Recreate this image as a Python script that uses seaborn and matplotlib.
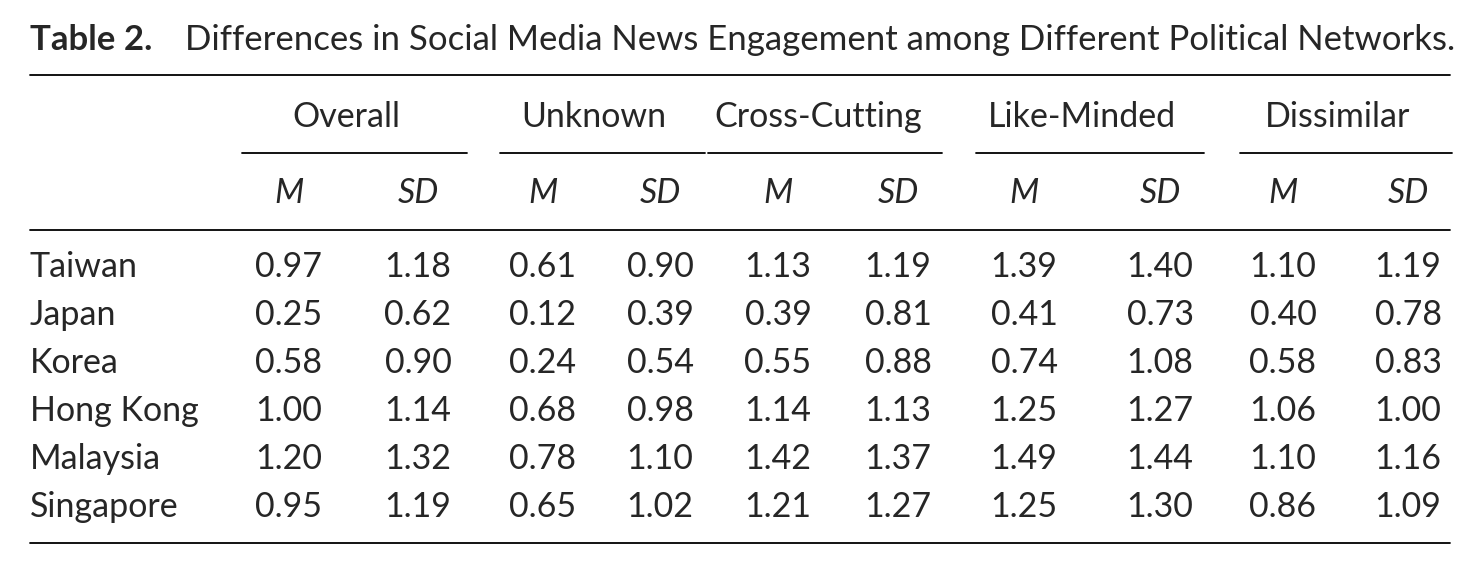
import matplotlib
matplotlib.use('Agg')
import matplotlib.pyplot as plt
import seaborn as sns

# ── Table data ───────────────────────────────────────────────
countries = ['Taiwan', 'Japan', 'Korea', 'Hong Kong', 'Malaysia', 'Singapore']
groups = ['Overall', 'Unknown', 'Cross-Cutting', 'Like-Minded', 'Dissimilar']
overall_m = ['0.97', '0.25', '0.58', '1.00', '1.20', '0.95']
overall_sd = ['1.18', '0.62', '0.90', '1.14', '1.32', '1.19']
unknown_m = ['0.61', '0.12', '0.24', '0.68', '0.78', '0.65']
unknown_sd = ['0.90', '0.39', '0.54', '0.98', '1.10', '1.02']
cross_m = ['1.13', '0.39', '0.55', '1.14', '1.42', '1.21']
cross_sd = ['1.19', '0.81', '0.88', '1.13', '1.37', '1.27']
like_m = ['1.39', '0.41', '0.74', '1.25', '1.49', '1.25']
like_sd = ['1.40', '0.73', '1.08', '1.27', '1.44', '1.30']
diss_m = ['1.10', '0.40', '0.58', '1.06', '1.10', '0.86']
diss_sd = ['1.19', '0.78', '0.83', '1.00', '1.16', '1.09']

columns = [overall_m, overall_sd, unknown_m, unknown_sd, cross_m, cross_sd,
           like_m, like_sd, diss_m, diss_sd]

# ── Layout (pixels) ──────────────────────────────────────────
W, H = 1479, 570
col_x = [289, 418, 543, 660, 778, 898, 1024, 1160, 1283, 1408]
group_x = [(242, 467), (500, 705), (708, 942), (976, 1204), (1240, 1452)]
group_cx = [346, 594, 818, 1082, 1338]
row_y = [267, 315, 363, 411, 459, 507]

sns.set_theme(style='white')
plt.rcParams['font.family'] = ['Lato', 'DejaVu Sans']

fig = plt.figure(figsize=(W / 100, H / 100), dpi=100)
ax = fig.add_axes([0, 0, 1, 1])
ax.set_xlim(0, W)
ax.set_ylim(H, 0)
ax.axis('off')

fs = 24.5
ax.text(30, 40, 'Table 2.', fontsize=25, fontweight='bold', va='center', ha='left')
ax.text(185, 40, 'Differences in Social Media News Engagement among Different Political Networks.',
        fontsize=25, va='center', ha='left')

for y in (75, 230, 543):
    ax.plot([30, 1450], [y, y], color='black', lw=1.3)

for name, cx, (x0, x1) in zip(groups, group_cx, group_x):
    ax.text(cx, 117, name, fontsize=fs, ha='center', va='center')
    ax.plot([x0, x1], [153, 153], color='black', lw=1.3)

for i, x in enumerate(col_x):
    ax.text(x, 193, 'M' if i % 2 == 0 else 'SD', fontsize=fs, style='italic',
            ha='center', va='center')

for j, (c, y) in enumerate(zip(countries, row_y)):
    ax.text(30, y, c, fontsize=fs, ha='left', va='center')
    for x, col in zip(col_x, columns):
        ax.text(x, y, col[j], fontsize=fs, ha='center', va='center')

fig.savefig('out.png', dpi=100, facecolor='white')
